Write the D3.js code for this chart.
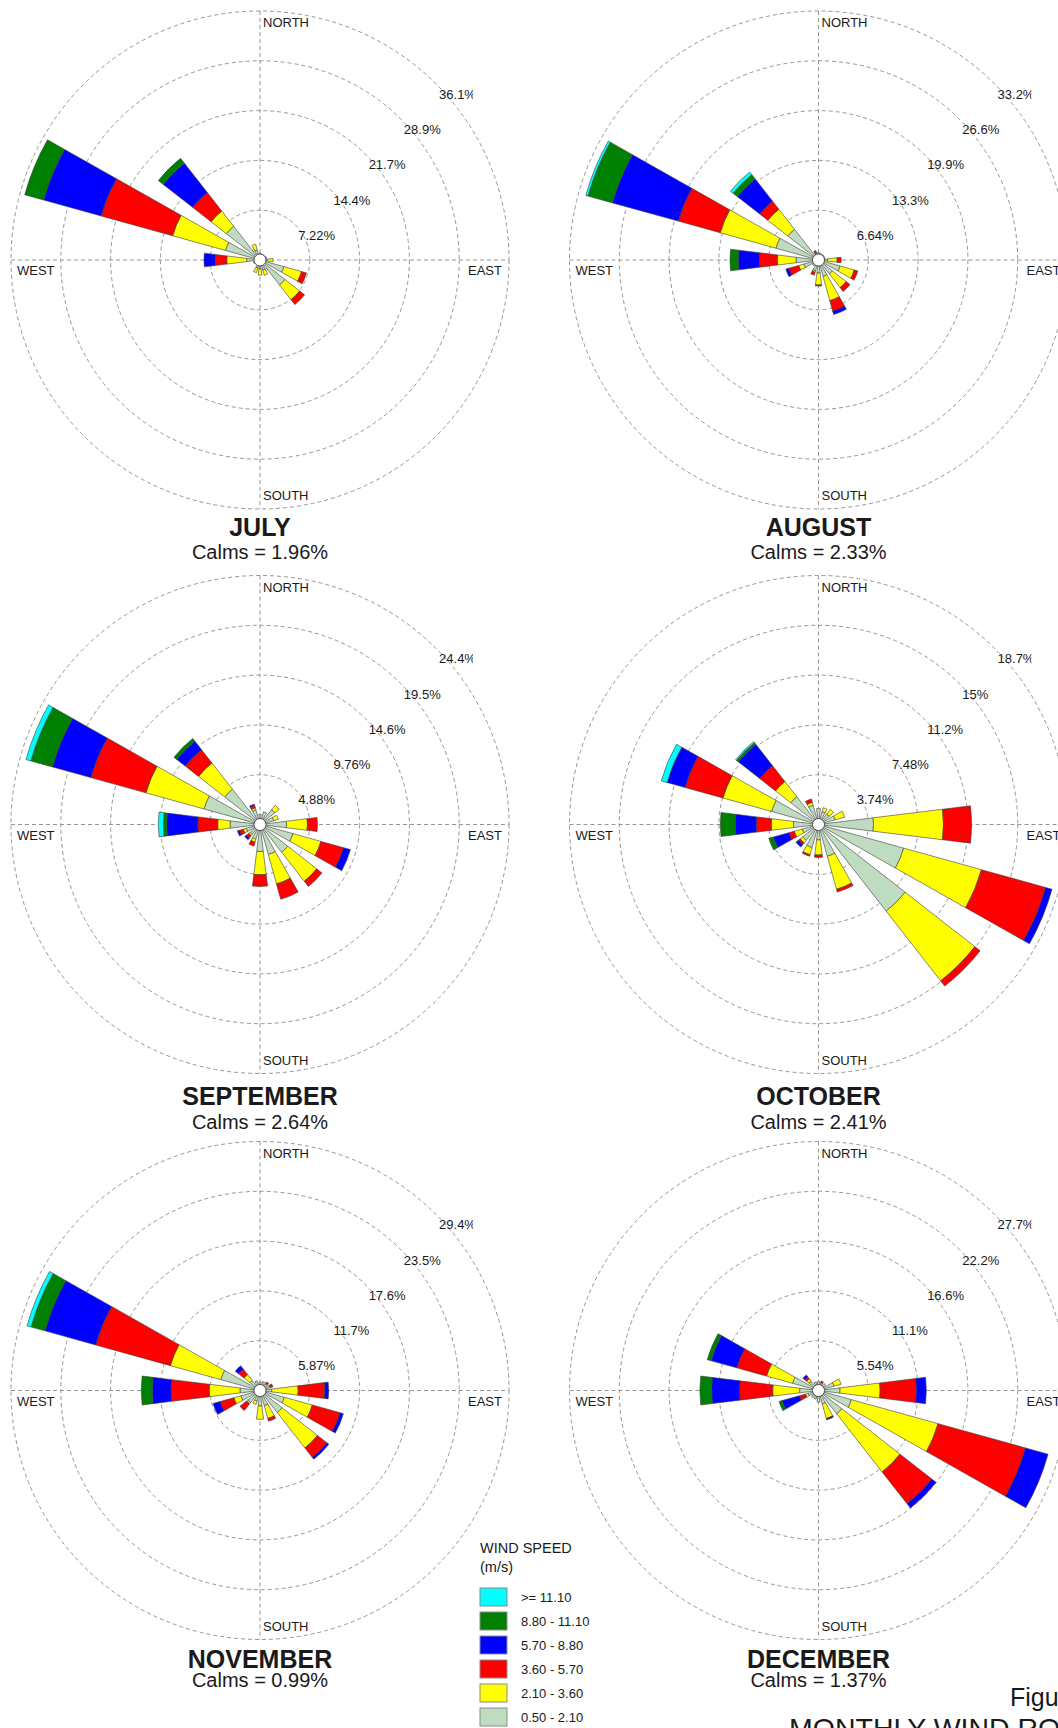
<!DOCTYPE html>
<html>
<head>
<meta charset="utf-8">
<script src="https://cdn.jsdelivr.net/npm/d3@7"></script>
<style>
  html, body { margin: 0; padding: 0; background: #fff; }
  svg { display: block; }
  text { font-family: "Liberation Sans", Arial, Helvetica, sans-serif; fill: #1a1a1a; }
</style>
</head>
<body>
<svg id="chart" width="1058" height="1728"></svg>
<script>
// 16 compass sectors, clockwise from north
const directions = ["N","NNE","NE","ENE","E","ESE","SE","SSE","S","SSW","SW","WSW","W","WNW","NW","NNW"];
// wind speed classes (m/s), innermost first
const speedClasses = ["0.50 - 2.10","2.10 - 3.60","3.60 - 5.70","5.70 - 8.80","8.80 - 11.10",">= 11.10"];
const classColors  = ["#c0dcc0","#ffff00","#ff0000","#0000ff","#008000","#00ffff"];

const months   = ["JULY","AUGUST","SEPTEMBER","OCTOBER","NOVEMBER","DECEMBER"];
const calms    = [1.96, 2.33, 2.64, 2.41, 0.99, 1.37];
const ringStep = [7.22, 6.64, 4.88, 3.74, 5.87, 5.54];
const ringLabels = [
  ["7.22%","14.4%","21.7%","28.9%","36.1%"],
  ["6.64%","13.3%","19.9%","26.6%","33.2%"],
  ["4.88%","9.76%","14.6%","19.5%","24.4%"],
  ["3.74%","7.48%","11.2%","15%","18.7%"],
  ["5.87%","11.7%","17.6%","23.5%","29.4%"],
  ["5.54%","11.1%","16.6%","22.2%","27.7%"]
];

// frequency (%) per direction, one column per speed class
const july = [
  [1.0,0,0,0,0,0],[0.9,0,0,0,0,0],[0.9,0,0,0,0,0],[1.0,0,0,0,0,0],
  [1.0,0.9,0,0,0,0],[3.6,2.65,0.75,0,0,0],[4.6,2.7,0.9,0,0,0],[1.5,0.8,0,0,0,0],
  [1.3,0.9,0,0,0,0],[1.2,0.7,0,0,0,0],[0.8,0,0,0,0,0],[1.0,0,0,0,0,0],
  [1.93,2.9,1.69,1.6,0,0],[5.2,7.95,10.75,8.65,2.85,0],[6.2,2.8,3.4,5.4,0.9,0],[1.5,0.9,0,0,0,0]
];
const august = [
  [1.0,0,0,0,0,0],[0.9,0,0,0,0,0],[0.9,0,0,0,0,0],[0.9,0,0,0,0,0],
  [1.2,1.29,0.53,0,0,0],[3.0,1.95,0.49,0,0,0],[2.36,2.31,0.66,0,0,0],[2.26,3.37,1.44,0.48,0,0],
  [1.73,1.6,0.15,0,0,0],[1.5,0.2,0.4,0,0,0],[1.0,0,0,0,0,0],[2.02,0.72,1.35,0.43,0,0],
  [3.0,2.5,2.4,2.8,1.1,0],[5.9,7.7,5.8,9.1,3.4,0.3],[5.2,3.4,1.35,3.75,0.75,0.45],[0.9,0.1,0.3,0,0,0]
];
const september = [
  [1.0,0,0,0,0,0],[1.3,0,0,0,0,0],[1.85,0.55,0,0,0,0],[1.4,0.46,0,0,0,0],
  [2.6,2.05,0.98,0,0,0],[3.35,2.85,2.3,0.7,0,0],[3.45,3.6,0.65,0,0,0],[3.05,2.99,1.56,0,0,0],
  [2.65,2.28,1.14,0,0,0],[1.5,0.3,0.4,0,0,0],[1.2,0.2,0.3,0.2,0,0],[1.4,0.3,0.4,0.2,0,0],
  [2.94,1.21,1.95,3.05,0.32,0.5],[5.7,5.9,5.6,3.9,2.2,0.5],[4.39,3.26,1.65,1.05,0.35,0],[1.5,0.2,0.25,0.12,0,0]
];
const october = [
  [1.2,0,0,0,0,0],[1.0,0.31,0,0,0,0],[1.0,0.44,0,0,0,0],[1.3,0.74,0,0,0,0],
  [4.13,5.26,2.11,0,0,0],[6.64,6.06,5.0,0.5,0,0],[8.26,6.64,0.5,0,0,0],[2.48,2.57,0.22,0,0,0],
  [1.16,1.13,0.18,0,0,0],[1.8,0.55,0.12,0,0,0],[1.5,0.25,0.15,0.25,0,0],[1.27,0.62,0.41,1.22,0.35,0],
  [1.88,1.67,1.13,1.58,1.12,0],[3.66,3.79,2.95,1.4,0,0.45],[2.65,1.45,1.5,2.03,0.17,0.1],[1.5,0.23,0.26,0,0,0]
];
const november = [
  [1.0,0,0,0,0,0],[1.1,0,0,0,0,0],[1.0,0.1,0.2,0,0,0],[1.2,0.1,0.28,0,0,0],
  [1.38,3.12,3.16,0.44,0,0],[2.98,3.42,3.4,0.4,0,0],[3.3,5.3,1.4,0.3,0,0],[1.85,1.57,0.34,0,0,0],
  [1.83,1.57,0,0,0,0],[1.3,0.4,0,0,0,0],[1.8,0.2,1.0,0,0,0],[2.34,0.86,1.69,0.85,0,0],
  [2.36,3.64,4.5,2.2,1.3,0],[4.8,6.17,9.13,6.2,1.7,0.5],[1.5,0.9,0.8,0.5,0,0],[1.2,0,0,0,0,0]
];
const december = [
  [1.0,0,0,0,0,0],[0.9,0,0.2,0,0,0],[1.0,0,0,0,0,0],[1.8,0.8,0,0,0,0],
  [2.4,4.46,4.04,1.1,0,0],[3.8,10.0,10.1,2.6,0,0],[3.3,8.2,4.5,0.6,0,0],[1.55,1.68,0.05,0.11,0,0],
  [1.3,0,0,0,0,0],[1.0,0,0,0,0,0],[1.0,0,0,0,0,0],[1.2,0.3,0.7,2.0,0.35,0],
  [2.1,3.0,3.7,3.1,1.3,0],[3.0,3.0,3.43,2.97,0.44,0],[1.33,0.34,0.28,0.25,0,0],[1.0,0,0,0,0,0]
];
const monthlyFrequencies = [july, august, september, october, november, december];

// ---- layout ----
const svg = d3.select("#chart");
svg.append("rect").attr("width", 1058).attr("height", 1728).attr("fill", "#fff");

const colX = [260, 818.5];
const rowY = [260, 824.5, 1390.5];
const titleBase = [535.5, 1105, 1667.5];
const calmBase  = [559, 1129, 1687];
const R = 249;          // outer ring radius
const holeR = 6;        // calm circle
const sectorHalf = 7 * Math.PI / 180;
const gridColor = "#8a8a8a";

const classKeys = d3.range(speedClasses.length);

months.forEach((name, m) => {
  const cx = colX[m % 2], cy = rowY[Math.floor(m / 2)];
  const row = Math.floor(m / 2);
  const g = svg.append("g").attr("transform", `translate(${cx},${cy})`);

  const r = d3.scaleLinear().domain([0, ringStep[m] * 5]).range([0, R]);
  const angle = d3.scaleBand().domain(directions).range([0, 2 * Math.PI]).align(0);

  // rings
  g.selectAll("circle.ring").data(d3.range(1, 6)).join("circle")
    .attr("class", "ring")
    .attr("r", k => r(ringStep[m] * k))
    .attr("fill", "none").attr("stroke", gridColor).attr("stroke-width", 0.9)
    .attr("stroke-dasharray", "4,3");

  // cross axes
  g.append("line").attr("x1", 0).attr("x2", 0).attr("y1", -R).attr("y2", R)
    .attr("stroke", gridColor).attr("stroke-width", 0.9).attr("stroke-dasharray", "4,3");
  g.append("line").attr("x1", -R).attr("x2", R).attr("y1", 0).attr("y2", 0)
    .attr("stroke", gridColor).attr("stroke-width", 0.9).attr("stroke-dasharray", "4,3");

  // stacked bars
  const rows = monthlyFrequencies[m].map((vals, i) => {
    const o = { dir: directions[i] };
    classKeys.forEach(k => o[k] = vals[k]);
    return o;
  });
  const series = d3.stack().keys(classKeys)(rows);
  const arc = d3.arc();
  series.forEach((s, k) => {
    g.append("g").selectAll("path").data(s.filter(d => d[1] - d[0] > 0)).join("path")
      .attr("d", d => {
        const a = angle(d.data.dir);
        return arc({
          innerRadius: Math.max(r(d[0]), 0),
          outerRadius: r(d[1]),
          startAngle: a - sectorHalf,
          endAngle: a + sectorHalf
        });
      })
      .attr("fill", classColors[k])
      .attr("stroke", "#3d3d3d").attr("stroke-width", 0.6);
  });

  // calm circle
  g.append("circle").attr("r", holeR).attr("fill", "#fff").attr("stroke", "#333").attr("stroke-width", 0.8);

  // compass labels
  g.append("text").attr("x", 3).attr("y", -R + 16).attr("font-size", 13).text("NORTH");
  g.append("text").attr("x", 3).attr("y", R - 9).attr("font-size", 13).text("SOUTH");
  g.append("text").attr("x", -R + 6).attr("y", 15).attr("font-size", 13).text("WEST");
  g.append("text").attr("x", R - 7).attr("y", 15).attr("text-anchor", "end").attr("font-size", 13).text("EAST");

  // ring labels along the NE diagonal; the outermost is cut by the plot box
  const clipId = "clip" + m;
  g.append("clipPath").attr("id", clipId).append("rect")
    .attr("x", -R).attr("y", -R).attr("width", R + 213).attr("height", 2 * R);
  ringLabels[m].forEach((lab, k) => {
    const rr = r(ringStep[m] * (k + 1));
    g.append("text")
      .attr("x", rr * Math.SQRT1_2 + 3)
      .attr("y", -rr * Math.SQRT1_2 + 15)
      .attr("font-size", 13)
      .attr("clip-path", k === 4 ? `url(#${clipId})` : null)
      .text(lab);
  });

  // month title and calms
  svg.append("text").attr("x", cx).attr("y", titleBase[row]).attr("text-anchor", "middle")
    .attr("font-size", 25).attr("font-weight", "bold").text(name);
  svg.append("text").attr("x", cx).attr("y", calmBase[row]).attr("text-anchor", "middle")
    .attr("font-size", 20).text(`Calms = ${calms[m].toFixed(2)}%`);
});

// ---- legend ----
const legend = svg.append("g").attr("transform", "translate(480,0)");
legend.append("text").attr("x", 0).attr("y", 1553).attr("font-size", 14.5).text("WIND SPEED");
legend.append("text").attr("x", 0).attr("y", 1572).attr("font-size", 14.5).text("(m/s)");
const legendOrder = classKeys.slice().reverse();
legendOrder.forEach((k, i) => {
  const y = 1588 + i * 24;
  legend.append("rect").attr("x", 0).attr("y", y).attr("width", 27).attr("height", 18)
    .attr("fill", classColors[k]).attr("stroke", "#8c8c8c").attr("stroke-width", 1);
  legend.append("text").attr("x", 41).attr("y", y + 13.5).attr("font-size", 13).text(speedClasses[k]);
});

// ---- figure caption ----
svg.append("text").attr("x", 1010).attr("y", 1706).attr("font-size", 25).text("Figure");
svg.append("text").attr("x", 789).attr("y", 1738).attr("font-size", 28.5).text("MONTHLY WIND ROSES");
</script>
</body>
</html>
